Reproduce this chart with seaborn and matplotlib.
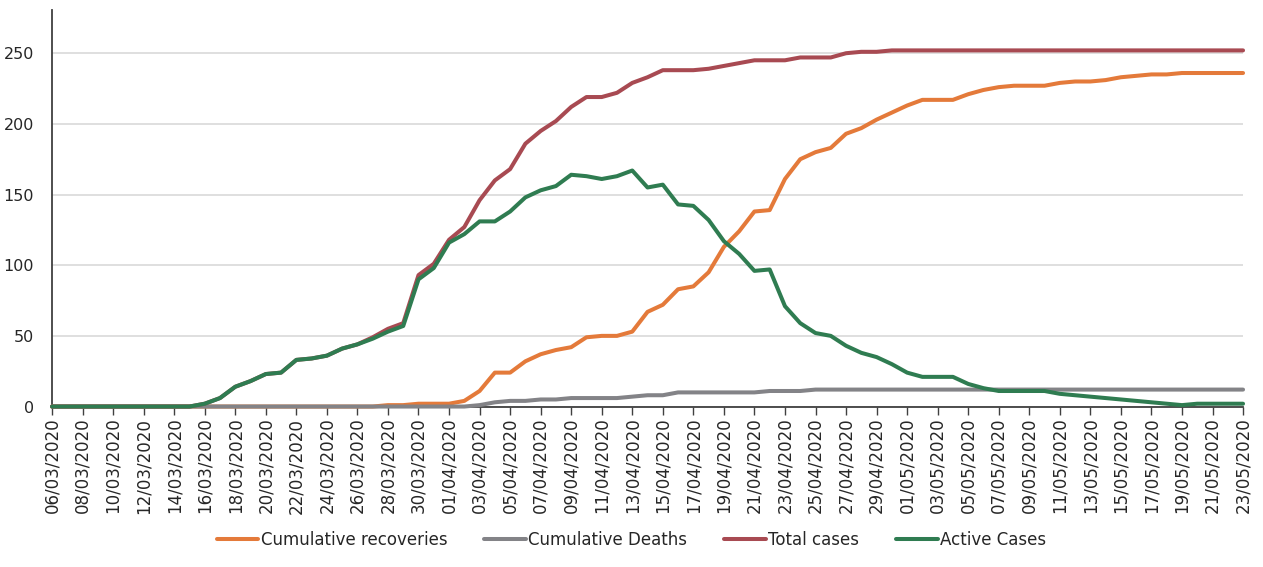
import numpy as np
import pandas as pd
import seaborn as sns
import matplotlib.pyplot as plt

# daily dates shown on the category axis
dates = pd.date_range('2020-03-06', '2020-05-23', freq='D')

recoveries = ([0] * 20 +
              [0, 0, 1, 1, 2, 2, 2, 4, 11, 24,
               24, 32, 37, 40, 42, 49, 50, 50, 53, 67,
               72, 83, 85, 95, 113, 124, 138, 139, 161, 175,
               180, 183, 193, 197, 203, 208, 213, 217, 217, 217,
               221, 224, 226, 227, 227, 227, 229, 230, 230, 231,
               233, 234, 235, 235, 236, 236, 236, 236, 236])

deaths = ([0] * 20 +
          [0, 0, 0, 0, 0, 0, 0, 0, 1, 3,
           4, 4, 5, 5, 6, 6, 6, 6, 7, 8,
           8, 10, 10, 10, 10, 10, 10, 11, 11, 11] +
          [12] * 29)

total_cases = ([0] * 10 +
               [2, 6, 14, 18, 23, 24, 33, 34, 36, 41,
                44, 49, 55, 59, 93, 101, 118, 127, 146, 160,
                168, 186, 195, 202, 212, 219, 219, 222, 229, 233,
                238, 238, 238, 239, 241, 243, 245, 245, 245, 247,
                247, 247, 250, 251, 251] +
               [252] * 24)

active_cases = ([0] * 10 +
                [2, 6, 14, 18, 23, 24, 33, 34, 36, 41,
                 44, 48, 53, 57, 90, 98, 116, 122, 131, 131,
                 138, 148, 153, 156, 164, 163, 161, 163, 167, 155,
                 157, 143, 142, 132, 117, 108, 96, 97, 71, 59,
                 52, 50, 43, 38, 35, 30, 24, 21, 21, 21,
                 16, 13, 11, 11, 11, 11, 9, 8, 7, 6,
                 5, 4, 3, 2, 1, 2, 2, 2, 2])

series_names = ['Cumulative recoveries', 'Cumulative Deaths', 'Total cases', 'Active Cases']
colors = ['#E47A3A', '#838387', '#A84A52', '#2F7C51']

df = pd.DataFrame({'date': dates,
                   'Cumulative recoveries': recoveries,
                   'Cumulative Deaths': deaths,
                   'Total cases': total_cases,
                   'Active Cases': active_cases})
long = df.melt(id_vars='date', var_name='series', value_name='value')

sns.set_style('white')
plt.rcParams['font.family'] = ['DejaVu Sans']
text_color = '#262626'

fig = plt.figure(figsize=(12.63, 5.67), dpi=100)
ax = fig.add_axes([0.0412, 0.283, 0.943, 0.6994])

sns.lineplot(data=long, x='date', y='value', hue='series', hue_order=series_names,
             palette=colors, linewidth=2.9, ax=ax, clip_on=False, zorder=3)

ax.set_xlim(dates[0], dates[-1])
ax.set_ylim(0, 280.6)
ax.set_yticks(np.arange(0, 251, 50))
ax.yaxis.grid(True, color='#d9d9d9', linewidth=1.2)
ax.set_axisbelow(True)

tick_dates = dates[::2]
ax.set_xticks(tick_dates)
ax.set_xticklabels([d.strftime('%d/%m/%Y') for d in tick_dates], rotation=90,
                   fontsize=12, color=text_color)
ax.tick_params(axis='x', direction='out', length=6, width=1, color='#404040', pad=2,
               bottom=True)
ax.tick_params(axis='y', length=0, pad=13, labelsize=11.5, labelcolor=text_color)

ax.set_xlabel('')
ax.set_ylabel('')
for side in ['top', 'right']:
    ax.spines[side].set_visible(False)
ax.spines['left'].set_color('#404040')
ax.spines['left'].set_linewidth(1.3)
ax.spines['bottom'].set_color('#404040')
ax.spines['bottom'].set_linewidth(1.3)

handles, labels = ax.get_legend_handles_labels()
ax.legend(handles, labels, loc='center', bbox_to_anchor=(0.5, 0.048),
          bbox_transform=fig.transFigure, ncol=4, frameon=False, fontsize=12,
          handlelength=2.5, handletextpad=0.15, columnspacing=2.2,
          labelcolor=text_color)

fig.savefig('out.png', dpi=100)
